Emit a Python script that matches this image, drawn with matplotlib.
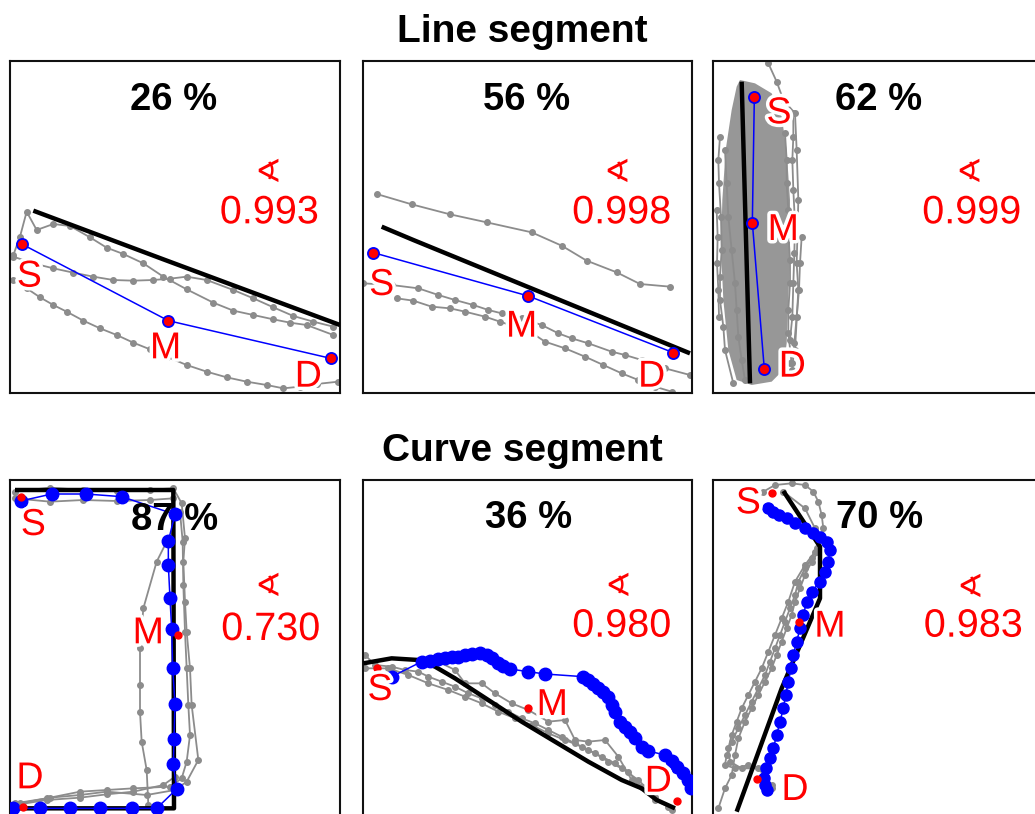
import matplotlib
matplotlib.use("Agg")
import matplotlib.pyplot as plt
import matplotlib.patheffects as pe

W, H = 1035, 814

# ---------------- text content ----------------
row_titles = ["Line segment", "Curve segment"]
percents = ["26 %", "56 %", "62 %", "87 %", "36 %", "70 %"]
agreement = ["0.993", "0.998", "0.999", "0.730", "0.980", "0.983"]
point_names = ["S", "M", "D"]

# ---------------- panel 1 (line segment) ----------------
p1_gray = [
    [(40, 615), (60, 560), (80, 485), (110, 540), (160, 522), (210, 528), (270, 562), (320, 593),
     (370, 612), (430, 640), (490, 680), (560, 718), (640, 758), (700, 782), (760, 795), (820, 808),
     (870, 818), (920, 825), (1000, 855)],
    [(40, 620), (100, 640), (160, 655), (220, 668), (280, 680), (340, 690), (400, 692), (460, 690),
     (510, 686), (560, 680), (620, 690), (700, 720), (760, 745), (820, 772), (880, 798), (940, 815),
     (1000, 830)],
    [(40, 690), (80, 715), (120, 742), (160, 765), (200, 785), (250, 812), (300, 835), (350, 855),
     (400, 878), (450, 898), (500, 920), (560, 945), (620, 965), (680, 982), (740, 995), (800, 1005),
     (850, 1015), (900, 1010), (950, 1002), (1015, 995)],
]
p1_black = [(100, 482), (490, 628), (1020, 825)]
p1_blue = [(65, 582), (505, 812), (992, 925)]
p1_names = [(88, 680), (497, 895), (925, 980)]

# ---------------- panel 2 (line segment) ----------------
p2_gray = [
    [(65, 432), (170, 463), (285, 493), (395, 517), (530, 547), (620, 587), (695, 632), (785, 667),
     (855, 702), (945, 710)],
    [(25, 700), (110, 705), (190, 715), (250, 735), (300, 750), (355, 765), (400, 780), (440, 790),
     (500, 805), (560, 825), (610, 850), (650, 865), (700, 880), (770, 905), (810, 915), (860, 930),
     (930, 955), (1005, 975)],
    [(125, 745), (175, 752), (230, 770), (285, 775), (330, 785), (390, 800), (435, 815), (480, 830),
     (525, 845), (570, 875), (630, 895), (690, 920), (745, 945), (800, 970), (850, 990), (900, 1010),
     (950, 1025)],
]
p2_black = [(80, 530), (175, 570), (1005, 910)]
p2_blue = [(55, 608), (520, 738), (955, 908)]
p2_names = [(80, 705), (500, 830), (890, 980)]

# ---------------- panel 3 (line segment) ----------------
p3_blob = [(105, 90), (150, 100), (200, 130), (230, 200), (245, 300), (255, 450), (255, 600),
           (250, 750), (245, 880), (235, 960), (200, 995), (140, 1005), (95, 990), (70, 900),
           (55, 750), (48, 600), (52, 450), (62, 300), (80, 180), (95, 110)]
p3_gray = [
    [(190, 40), (215, 95), (235, 150), (270, 190), (275, 300), (280, 450), (275, 640), (280, 720),
     (270, 900), (255, 940)],
    [(45, 260), (40, 330), (42, 400), (48, 500), (50, 600), (45, 680), (45, 750), (55, 830),
     (60, 900), (85, 1000)],
    [(240, 250), (245, 330), (245, 400), (250, 480), (250, 550), (255, 630), (255, 700), (250, 780),
     (250, 850), (260, 940)],
    [(60, 300), (65, 400), (70, 500), (80, 600), (90, 700), (95, 780), (100, 860), (110, 930),
     (120, 990)],
    [(265, 190), (265, 260), (262, 330), (265, 420), (270, 520), (268, 610), (265, 700), (262, 800),
     (255, 870)],
    [(290, 560), (285, 640), (282, 720), (275, 800), (268, 880), (262, 960)],
    [(35, 480), (38, 560), (36, 640), (40, 720), (42, 800)],
]
p3_black = [(110, 95), (135, 1000)]
p3_blue = [(148, 142), (142, 518), (178, 958)]
p3_names = [(222, 190), (235, 540), (262, 950)]

# ---------------- panel 4 (curve segment) ----------------
p4_gray = [
    [(45, 50), (150, 38), (250, 45), (350, 48), (450, 44), (520, 40), (545, 85), (555, 190),
     (550, 260), (555, 380), (560, 470), (570, 580), (575, 690), (595, 855), (560, 920), (525, 945),
     (440, 960), (320, 950), (240, 960), (150, 968), (60, 985)],
    [(45, 70), (150, 80), (250, 75), (350, 78), (450, 75), (520, 70)],
    [(500, 200), (470, 260), (430, 400), (420, 520), (420, 630), (420, 710), (425, 800),
     (440, 885), (445, 990)],
    [(540, 110), (548, 200), (550, 330), (555, 470), (560, 580), (565, 690), (570, 780), (560, 860),
     (545, 910), (510, 935), (400, 940), (320, 945), (240, 950), (140, 970), (45, 985)],
    [(45, 990), (140, 975), (240, 968), (320, 958), (400, 950), (490, 930), (525, 905)],
]
p4_black = [(45, 45), (520, 45), (522, 1000), (40, 1000)]
p4_blue = [(62, 78), (155, 57), (258, 57), (365, 65), (525, 118), (505, 198), (505, 270),
           (510, 370), (515, 462), (518, 578), (525, 688), (522, 792), (520, 868), (530, 942),
           (470, 1000), (395, 1000), (300, 1000), (210, 1000), (120, 1000), (40, 1000)]
p4_red = [(62, 65), (535, 480), (70, 995)]
p4_names = [(100, 150), (445, 475), (90, 910)]

# ---------------- panel 5 (curve segment) ----------------
p5_gray = [
    [(30, 540), (60, 570), (110, 575), (150, 585), (190, 590), (220, 605), (260, 620), (300, 635),
     (340, 655), (380, 670), (420, 690), (460, 710), (500, 730), (540, 745), (580, 765), (620, 785),
     (660, 805), (700, 825), (740, 845), (780, 865), (820, 890), (860, 935), (900, 975), (940, 995)],
    [(30, 580), (100, 580), (160, 600), (220, 625), (280, 645), (330, 665), (380, 685), (430, 710),
     (480, 730), (530, 750), (580, 775), (630, 795), (680, 815), (720, 835), (760, 860), (800, 880),
     (850, 915), (900, 965), (950, 1005)],
    [(240, 555), (300, 585), (330, 625), (380, 625), (420, 655), (470, 685), (520, 705), (580, 740),
     (630, 735), (660, 795), (700, 800), (750, 795), (790, 845), (830, 915), (860, 935)],
]
p5_black = [(25, 565), (110, 550), (190, 555), (240, 575), (300, 610), (400, 675), (500, 740),
            (600, 800), (700, 860), (800, 915), (860, 940), (905, 975), (960, 1000)]
p5_blue = [(110, 605), (200, 560), (225, 557), (250, 553), (270, 548), (290, 546), (310, 545),
           (330, 540), (350, 537), (375, 533), (395, 540), (410, 550), (430, 565), (445, 572),
           (465, 582), (520, 590), (570, 597), (685, 605), (700, 615), (715, 627), (730, 638),
           (745, 650), (760, 665), (770, 690), (780, 710), (795, 740), (810, 755), (825, 770),
           (840, 790), (860, 815), (880, 828), (930, 840), (950, 858), (965, 875), (985, 895),
           (1000, 915), (1008, 940)]
p5_red = [(65, 578), (520, 700), (965, 978)]
p5_names = [(75, 645), (592, 690), (910, 920)]

# ---------------- panel 6 (curve segment) ----------------
p6_gray = [
    [(175, 50), (210, 30), (260, 25), (300, 30), (325, 50), (340, 80), (350, 120), (355, 160),
     (345, 190), (335, 220), (320, 250), (300, 280), (280, 320), (270, 360), (255, 400), (240, 440),
     (225, 480), (210, 520), (195, 560), (180, 600), (160, 640), (140, 680), (120, 720), (100, 760),
     (80, 800), (65, 840), (60, 870), (90, 880), (130, 870), (170, 880), (200, 940)],
    [(235, 50), (300, 100), (330, 160), (340, 230), (320, 260), (300, 300), (285, 340), (270, 380),
     (260, 420), (245, 460), (230, 500), (215, 540), (200, 580), (180, 620), (160, 660), (140, 700),
     (120, 740), (100, 790), (90, 840), (80, 900), (60, 940), (40, 1000)],
    [(330, 230), (300, 270), (270, 320), (250, 380), (230, 430), (210, 480), (190, 530), (170, 580),
     (150, 620), (130, 660), (110, 700), (95, 740), (80, 780), (70, 820), (75, 860), (110, 880),
     (160, 880), (200, 930)],
]
p6_black = [(235, 48), (345, 215), (345, 370), (230, 640), (95, 1010)]
p6_blue = [(190, 100), (205, 112), (222, 120), (245, 130), (270, 145), (300, 160), (325, 175),
           (345, 185), (365, 200), (375, 225), (370, 260), (360, 290), (345, 320), (320, 350),
           (305, 380), (295, 420), (285, 460), (275, 500), (265, 540), (258, 580), (250, 620),
           (242, 660), (235, 700), (225, 740), (215, 780), (205, 820), (195, 850), (183, 880),
           (177, 910), (180, 930), (185, 945)]
p6_red = [(200, 55), (283, 440), (155, 912)]
p6_names = [(130, 85), (375, 455), (270, 945)]

# ---------------- layout (crop origin px, local x-range, local y-range) ----------------
layout = [
    ((0, 50), (30, 1020), (33, 1030)),
    ((355, 50), (25, 1010), (33, 1030)),
    ((705, 50), (25, 1011), (33, 1030)),
    ((0, 475), (30, 1020), (15, 1025)),
    ((355, 475), (25, 1010), (15, 1025)),
    ((705, 475), (25, 1011), (15, 1025)),
]
pct_pos = [(522, 180), (515, 180), (522, 180), (525, 165), (520, 160), (525, 160)]
ang_pos = [(802, 370), (785, 370), (790, 370), (802, 338), (788, 338), (795, 340)]
val_pos = [(808, 520), (800, 520), (800, 520), (812, 495), (800, 485), (805, 485)]

GRAY = "#8c8c8c"
RED = "#ff0000"
BLUE = "#0000ff"
FONT = "Liberation Sans"
halo = [pe.withStroke(linewidth=5, foreground="white")]

fig = plt.figure(figsize=(W / 100, H / 100), dpi=100)


def xs(pts):
    return [p[0] for p in pts]


def ys(pts):
    return [p[1] for p in pts]


panels = [
    dict(gray=p1_gray, black=p1_black, blue=p1_blue, names=p1_names, kind="line"),
    dict(gray=p2_gray, black=p2_black, blue=p2_blue, names=p2_names, kind="line"),
    dict(gray=p3_gray, black=p3_black, blue=p3_blue, names=p3_names, kind="line", blob=p3_blob),
    dict(gray=p4_gray, black=p4_black, blue=p4_blue, red=p4_red, names=p4_names, kind="curve", ms=9),
    dict(gray=p5_gray, black=p5_black, blue=p5_blue, red=p5_red, names=p5_names, kind="curve", ms=9),
    dict(gray=p6_gray, black=p6_black, blue=p6_blue, red=p6_red, names=p6_names, kind="curve", ms=8),
]

for i, (pan, ((ox, oy), (x0, x1), (y0, y1))) in enumerate(zip(panels, layout)):
    left = ox + x0 / 3
    right = ox + x1 / 3
    top = oy + y0 / 3
    bottom = oy + y1 / 3
    ax = fig.add_axes([left / W, 1 - bottom / H, (right - left) / W, (bottom - top) / H])
    ax.set_xlim(x0, x1)
    ax.set_ylim(y1, y0)
    ax.set_xticks([])
    ax.set_yticks([])
    for s in ax.spines.values():
        s.set_linewidth(1.5)
        s.set_color("#111111")

    if "blob" in pan:
        ax.fill(xs(pan["blob"]), ys(pan["blob"]), color=GRAY, alpha=0.9, lw=0, zorder=1)
    for tr in pan["gray"]:
        ax.plot(xs(tr), ys(tr), color=GRAY, lw=1.3, marker="o", ms=4, mec=GRAY, mfc=GRAY, zorder=2)
    ax.plot(xs(pan["black"]), ys(pan["black"]), color="black", lw=3.2, solid_capstyle="butt", zorder=3)

    if pan["kind"] == "line":
        ax.plot(xs(pan["blue"]), ys(pan["blue"]), color=BLUE, lw=1.1, marker="o", ms=8,
                mfc=RED, mec=BLUE, mew=1.3, zorder=4)
    else:
        ax.plot(xs(pan["blue"]), ys(pan["blue"]), color=BLUE, lw=1.1, marker="o", ms=pan["ms"],
                mfc=BLUE, mec=BLUE, zorder=4)
        ax.plot(xs(pan["red"]), ys(pan["red"]), ls="none", marker="o", ms=5, mfc=RED, mec=RED, zorder=5)

    for name, (nx, ny) in zip(point_names, pan["names"]):
        ax.text(nx, ny, name, color=RED, fontsize=27, family=FONT, ha="center", va="center",
                path_effects=halo, zorder=6)

    px, py = pct_pos[i]
    ax.text(px, py, percents[i], color="black", fontsize=27.5, fontweight="bold", family=FONT,
            ha="center", va="baseline", zorder=7)
    axx, ayy = ang_pos[i]
    ax.text(axx, ayy, "\u2222", color=RED, fontsize=23, family="DejaVu Sans",
            ha="center", va="center", zorder=7)
    vx, vy = val_pos[i]
    ax.text(vx, vy, agreement[i], color=RED, fontsize=28.5, family=FONT, ha="center",
            va="baseline", path_effects=halo, zorder=7)

fig.text(522 / W, 1 - 41.7 / H, row_titles[0], fontsize=28, fontweight="bold", family=FONT,
         ha="center", va="baseline")
fig.text(522 / W, 1 - 460.7 / H, row_titles[1], fontsize=28, fontweight="bold", family=FONT,
         ha="center", va="baseline")

fig.savefig("out.png", dpi=100)
